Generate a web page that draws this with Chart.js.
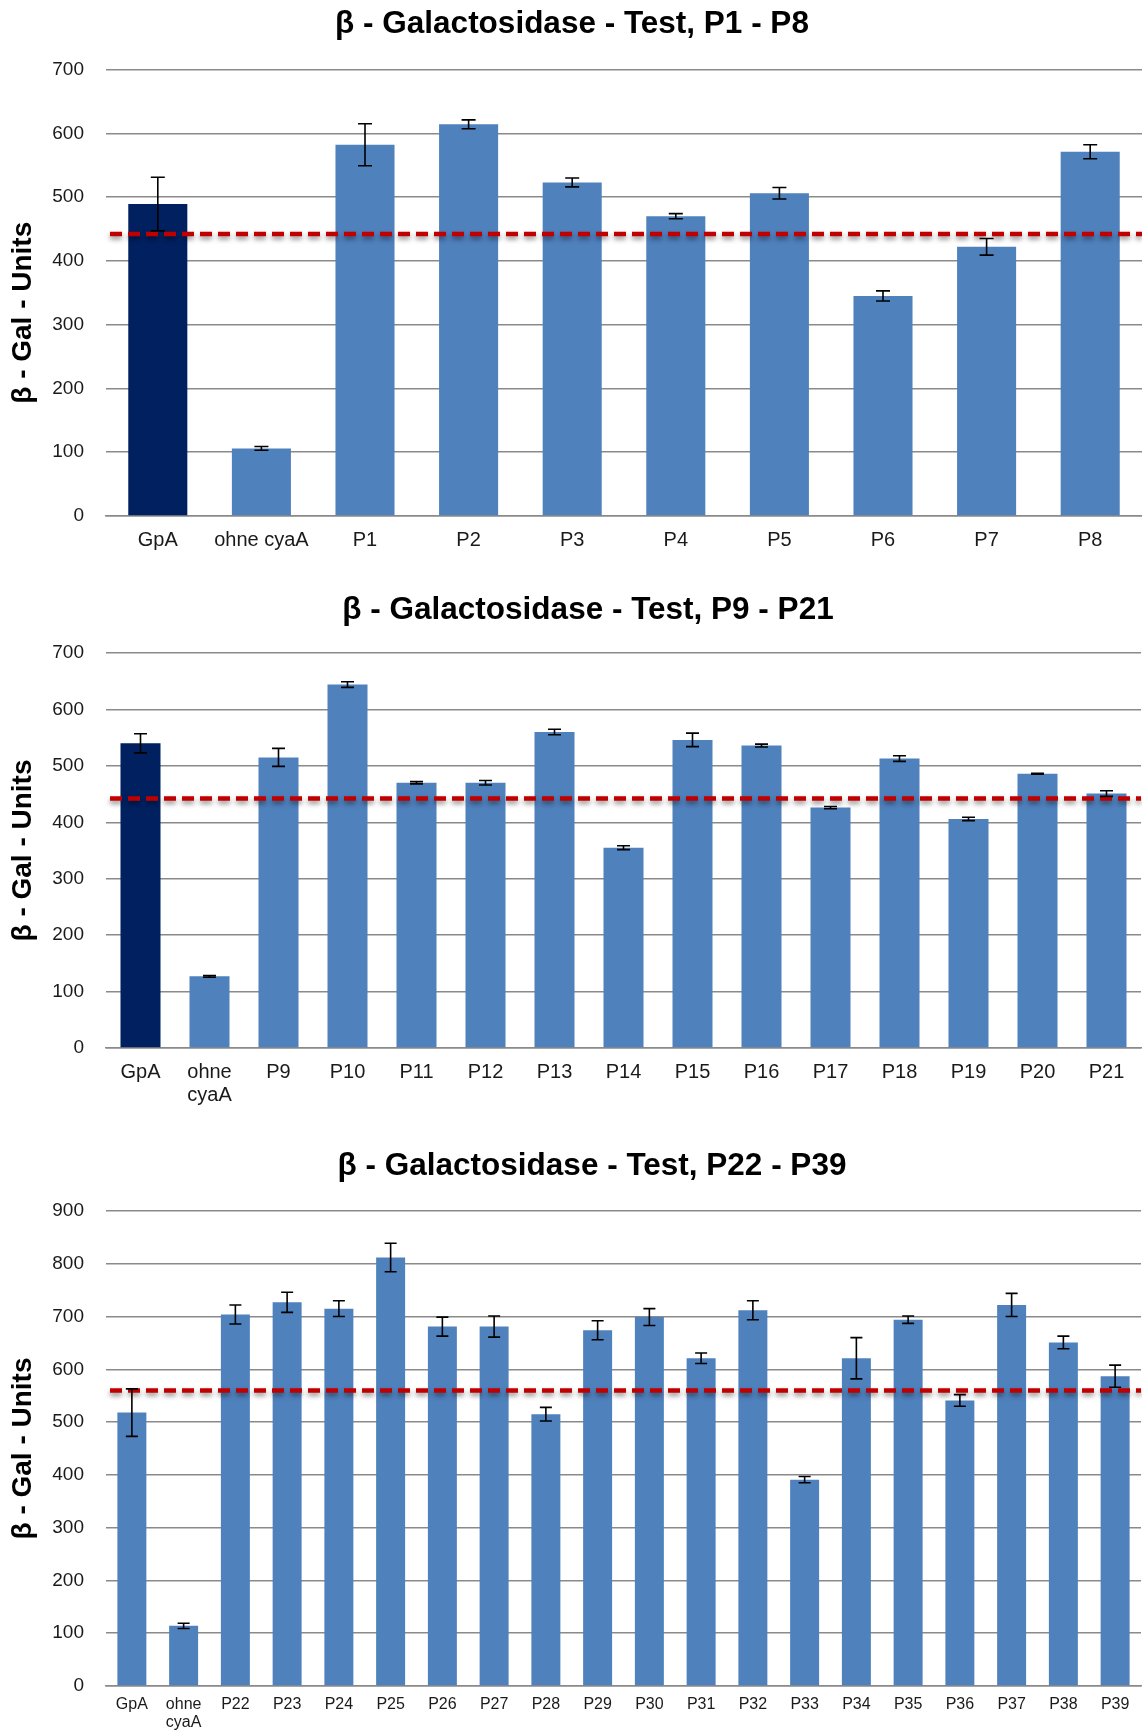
<!DOCTYPE html>
<html>
<head>
<meta charset="utf-8">
<title>β - Galactosidase - Test</title>
<script src="https://cdn.jsdelivr.net/npm/chart.js@4.4.1/dist/chart.umd.min.js"></script>
<style>
  html, body { margin: 0; padding: 0; background: #ffffff; }
  .panel { position: absolute; left: 0; width: 1142px; }
  canvas { display: block; }
</style>
</head>
<body>
<div class="panel" style="top:0px;height:575px"><canvas id="chart1" width="1142" height="575"></canvas></div>
<div class="panel" style="top:575px;height:555px"><canvas id="chart2" width="1142" height="555"></canvas></div>
<div class="panel" style="top:1130px;height:603px"><canvas id="chart3" width="1142" height="603"></canvas></div>

<script>
// ---- Data: P1 - P8 ----
const labels1 = ['GpA', 'ohne cyaA', 'P1', 'P2', 'P3', 'P4', 'P5', 'P6', 'P7', 'P8'];
const values1 = [489, 106, 582, 614, 523, 470, 506, 345, 422, 571];
const errors1 = [42, 3, 33, 7, 7, 4, 9, 8, 13, 11];
const threshold1 = 442;
const yTicks1 = [0, 100, 200, 300, 400, 500, 600, 700];

// ---- Data: P9 - P21 ----
const labels2 = ['GpA', ['ohne', 'cyaA'], 'P9', 'P10', 'P11', 'P12', 'P13', 'P14', 'P15', 'P16', 'P17', 'P18', 'P19', 'P20', 'P21'];
const values2 = [540, 127, 515, 644, 470, 470, 560, 355, 546, 536, 426, 513, 406, 486, 451];
const errors2 = [17, 1.5, 16, 5, 2, 4, 5, 3.5, 12, 2.5, 2, 5, 3, 1, 5];
const threshold2 = 442;
const yTicks2 = [0, 100, 200, 300, 400, 500, 600, 700];

// ---- Data: P22 - P39 ----
const labels3 = ['GpA', ['ohne', 'cyaA'], 'P22', 'P23', 'P24', 'P25', 'P26', 'P27', 'P28', 'P29', 'P30', 'P31', 'P32', 'P33', 'P34', 'P35', 'P36', 'P37', 'P38', 'P39'];
const values3 = [518, 114, 704, 727, 715, 812, 681, 681, 515, 674, 699, 621, 712, 391, 621, 694, 541, 722, 651, 587];
const errors3 = [45, 5, 18, 19, 15, 27, 18, 20, 13, 18, 16, 10, 18, 6, 39, 7, 11, 22, 12, 21];
const threshold3 = 560;
const yTicks3 = [0, 100, 200, 300, 400, 500, 600, 700, 800, 900];

const BLUE = '#4F81BD';
const NAVY = '#002060';
const GRID = '#8a8a8a';
const FONT = "'Liberation Sans', Arial, sans-serif";

// Dashed red reference line with a soft drop shadow
const refLinePlugin = {
  id: 'refLine',
  afterDatasetsDraw(chart, args, opts) {
    const y = chart.scales.y.getPixelForValue(opts.value);
    const { left, right } = chart.chartArea;
    const ctx = chart.ctx;
    ctx.save();
    ctx.strokeStyle = '#C00000';
    ctx.lineWidth = 4.5;
    ctx.setLineDash([12, 6]);
    ctx.shadowColor = 'rgba(0,0,0,0.45)';
    ctx.shadowBlur = 5;
    ctx.shadowOffsetY = 3;
    ctx.beginPath();
    ctx.moveTo(left + 4, y);
    ctx.lineTo(right, y);
    ctx.stroke();
    ctx.restore();
  }
};

// Symmetric error bars on each bar
const errorBarPlugin = {
  id: 'errorBars',
  afterDatasetsDraw(chart, args, opts) {
    const meta = chart.getDatasetMeta(0);
    const data = chart.data.datasets[0].data;
    const ys = chart.scales.y;
    const ctx = chart.ctx;
    ctx.save();
    ctx.strokeStyle = '#000000';
    ctx.lineWidth = 1.6;
    meta.data.forEach((bar, i) => {
      const e = opts.errors[i];
      const yTop = ys.getPixelForValue(data[i] + e);
      const yBot = ys.getPixelForValue(data[i] - e);
      const x = bar.x;
      const cap = opts.cap;
      ctx.beginPath();
      ctx.moveTo(x, yTop); ctx.lineTo(x, yBot);
      ctx.moveTo(x - cap, yTop); ctx.lineTo(x + cap, yTop);
      ctx.moveTo(x - cap, yBot); ctx.lineTo(x + cap, yBot);
      ctx.stroke();
    });
    ctx.restore();
  }
};

// Chart heading and rotated y-axis caption
const captionPlugin = {
  id: 'captions',
  afterDraw(chart, args, opts) {
    const { top, bottom } = chart.chartArea;
    const ctx = chart.ctx;
    ctx.save();
    ctx.fillStyle = '#000000';
    ctx.textAlign = 'center';
    ctx.textBaseline = 'middle';
    ctx.font = 'bold ' + opts.titleSize + 'px ' + FONT;
    ctx.fillText(opts.title, opts.titleX, opts.titleY);
    ctx.translate(opts.axisX, (top + bottom) / 2 + opts.axisDy);
    ctx.rotate(-Math.PI / 2);
    ctx.font = 'bold ' + opts.axisSize + 'px ' + FONT;
    ctx.fillText(opts.axisText, 0, 0);
    ctx.restore();
  }
};

function makeChart(id, cfg) {
  return new Chart(document.getElementById(id), {
    type: 'bar',
    data: {
      labels: cfg.labels,
      datasets: [{
        data: cfg.values,
        backgroundColor: cfg.colors,
        borderWidth: 0,
        categoryPercentage: 1,
        barPercentage: cfg.barPct
      }]
    },
    options: {
      responsive: false,
      animation: false,
      events: [],
      layout: { padding: { top: cfg.padTop, left: 0, right: cfg.padRight, bottom: 0 } },
      plugins: {
        legend: { display: false },
        tooltip: { enabled: false },
        title: { display: false },
        refLine: { value: cfg.threshold },
        errorBars: { errors: cfg.errors, cap: cfg.cap },
        captions: {
          title: cfg.title, titleX: cfg.titleX, titleY: cfg.titleY, titleSize: 31.5,
          axisText: 'β - Gal - Units', axisX: 23, axisDy: cfg.captionDy, axisSize: 28
        }
      },
      scales: {
        x: {
          grid: { display: false, drawTicks: false },
          border: { display: true, color: GRID, width: 1.5 },
          ticks: {
            color: '#1a1a1a',
            font: { family: FONT, size: cfg.xFont, lineHeight: cfg.xLine },
            padding: cfg.xPad,
            autoSkip: false,
            maxRotation: 0,
            minRotation: 0
          },
          afterFit(scale) { scale.height = cfg.xHeight; }
        },
        y: {
          min: 0,
          max: cfg.yTicks[cfg.yTicks.length - 1],
          afterBuildTicks(scale) { scale.ticks = cfg.yTicks.map(v => ({ value: v })); },
          grid: { color: GRID, lineWidth: 1.5, drawTicks: false },
          border: { display: false },
          ticks: {
            color: '#1a1a1a',
            font: { family: FONT, size: 19 },
            padding: 22
          },
          afterFit(scale) { scale.width = 106; }
        }
      }
    },
    plugins: [refLinePlugin, errorBarPlugin, captionPlugin]
  });
}

const colors1 = labels1.map((_, i) => i === 0 ? NAVY : BLUE);
const colors2 = labels2.map((_, i) => i === 0 ? NAVY : BLUE);
const colors3 = labels3.map(() => BLUE);

makeChart('chart1', {
  title: 'β - Galactosidase - Test, P1 - P8', titleX: 572, titleY: 24,
  labels: labels1, values: values1, errors: errors1, threshold: threshold1,
  yTicks: yTicks1, colors: colors1, barPct: 0.57, cap: 7,
  padTop: 69.5, xHeight: 59, xFont: 20, xLine: 1.15, xPad: 13,
  padRight: 0, captionDy: 20
});

makeChart('chart2', {
  title: 'β - Galactosidase - Test, P9 - P21', titleX: 588, titleY: 35,
  labels: labels2, values: values2, errors: errors2, threshold: threshold2,
  yTicks: yTicks2, colors: colors2, barPct: 0.58, cap: 6.5,
  padTop: 78, xHeight: 82, xFont: 20, xLine: 1.15, xPad: 13,
  padRight: 1, captionDy: 0
});

makeChart('chart3', {
  title: 'β - Galactosidase - Test, P22 - P39', titleX: 592, titleY: 36,
  labels: labels3, values: values3, errors: errors3, threshold: threshold3,
  yTicks: yTicks3, colors: colors3, barPct: 0.56, cap: 6,
  padTop: 81, xHeight: 47, xFont: 16, xLine: 1.17, xPad: 9,
  padRight: 1, captionDy: 0
});
</script>
</body>
</html>
